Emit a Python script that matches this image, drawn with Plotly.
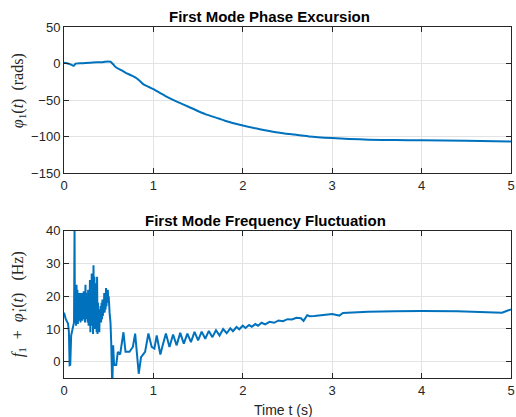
import plotly.graph_objects as go
from plotly.subplots import make_subplots

# top panel: phase excursion (rads)
t_phase = [0, 0.03, 0.06, 0.09, 0.11, 0.13, 0.2, 0.32, 0.43, 0.50, 0.52, 0.55, 0.58,
           0.64, 0.69, 0.76, 0.82, 0.86, 0.89, 0.95, 1.0, 1.13, 1.28, 1.43, 1.58, 1.73,
           1.80, 2.0, 2.19, 2.37, 2.56, 2.74, 3.0, 3.19, 3.41, 3.7, 4.0, 4.5, 5.0]
phase = [1, 0.5, -0.5, -2, -3, 0, 0.5, 1.5, 2, 3, 2.5, -1, -5,
         -9, -12.6, -16.5, -20.7, -25, -28.4, -32, -35, -44, -53, -61, -69, -75,
         -78, -84.7, -89.6, -93.7, -96.8, -99.5, -101.8, -103, -104, -104.5, -104.8, -105.5, -106.5]

# bottom panel: instantaneous frequency (Hz)
t_freq = [0, 0.02, 0.045, 0.055, 0.063, 0.07, 0.08, 0.1, 0.112, 0.118, 0.122,
          0.13, 0.135, 0.14, 0.145, 0.15, 0.155, 0.16, 0.165, 0.17, 0.175, 0.18, 0.185,
          0.19, 0.195, 0.20, 0.205, 0.21, 0.215, 0.22, 0.225, 0.23, 0.235, 0.24, 0.245,
          0.25, 0.255, 0.26, 0.265, 0.27, 0.275, 0.28, 0.285, 0.29, 0.295, 0.30, 0.305,
          0.31, 0.315, 0.32, 0.325, 0.33, 0.335, 0.34, 0.345, 0.35, 0.355, 0.36, 0.365,
          0.37, 0.375, 0.38, 0.385, 0.39, 0.395, 0.40, 0.405, 0.41, 0.415, 0.42, 0.425,
          0.43, 0.435, 0.44, 0.445, 0.45, 0.455, 0.46, 0.465, 0.47, 0.475, 0.48, 0.485,
          0.49, 0.495, 0.50, 0.51, 0.52, 0.528, 0.54, 0.55, 0.56, 0.584,
          0.602, 0.628, 0.665, 0.688, 0.732, 0.77, 0.796, 0.836, 0.862, 0.907, 0.944,
          0.981, 1.011, 1.037, 1.078, 1.104, 1.14, 1.18, 1.22, 1.26, 1.30, 1.34, 1.38,
          1.42, 1.46, 1.50, 1.54, 1.58, 1.62, 1.66, 1.70, 1.74, 1.78, 1.82, 1.86, 1.89,
          1.93, 1.96, 2.0, 2.03, 2.07, 2.10, 2.14, 2.17, 2.21, 2.25, 2.30, 2.35, 2.40,
          2.45, 2.50, 2.55, 2.60, 2.65, 2.68, 2.72, 2.75, 2.80, 2.85, 2.90, 2.95, 3.0,
          3.05, 3.08, 3.12, 3.2, 3.4, 3.7, 4.0, 4.4, 4.7, 4.9, 4.95, 5.0]
freq = [15, 13, 11.7, 9, -1.1, -1, 8, 10.5, 12, 41, 12,
        23, 11, 23.5, 13, 22, 11.5, 21, 12.5, 20, 13, 21, 12,
        19, 13, 21, 12.5, 20, 14, 21.5, 13, 18, 12, 23.5, 14,
        21, 13, 17, 12, 22, 11, 20, 13, 25, 9, 21, 12,
        27, 11, 22, 8.5, 29.5, 12, 26, 10, 24, 14, 21, 9,
        26, 8.5, 18, 12, 16, 9, 16, 12.5, 17, 12, 18, 13,
        19, 14, 18, 15, 21, 15, 20, 16, 22.5, 17, 22, 18,
        22, 19, 20, 15, 12, 6, -8, 5, -1, -1,
        3, 2.2, 9, 3, 3, 4.5, 8.6, -3.7, 1.4, 3, 8.6,
        4.5, 4, 8, 2.2, 5, 8.6, 4.5, 8.3, 5, 8.8, 5.5, 8.6,
        6, 9.1, 6.5, 9.2, 7, 9.4, 7.5, 9.6, 8, 10, 8.7, 10.2, 9.3,
        10.6, 9.9, 11, 10.3, 11.2, 10.7, 11.5, 11, 11.9, 11.4, 12.2, 11.9, 12.6,
        12.4, 13, 12.9, 13.4, 13.3, 12.5, 14.2, 13.9, 14, 14.2, 14.4, 14.4, 14.6,
        14.3, 14.1, 14.9, 15.0, 15.3, 15.4, 15.5, 15.4, 15.2, 15.0, 15.5, 16]

x_ticks = [0, 1, 2, 3, 4, 5]

BLUE = "#0072BD"
AX = "#262626"
GRID = "#e3e3e3"
TOP_DOMAIN = [0.583, 1]
BOTTOM_DOMAIN = [0, 0.419]

fig = make_subplots(rows=2, cols=1)
fig.add_trace(go.Scatter(x=t_phase, y=phase, mode="lines",
                         line=dict(color=BLUE, width=2, shape="spline", smoothing=0.6)),
              row=1, col=1)
fig.add_trace(go.Scatter(x=t_freq, y=freq, mode="lines",
                         line=dict(color=BLUE, width=2)), row=2, col=1)

tick_font = dict(family="Liberation Sans", size=13, color=AX)
axis_common = dict(showline=True, linecolor=AX, linewidth=1, mirror="ticks",
                   ticks="inside", ticklen=5, tickcolor=AX, showgrid=True,
                   gridcolor=GRID, gridwidth=1, zeroline=False, automargin=False,
                   ticklabeloverflow="allow", tickfont=tick_font)

fig.update_xaxes(range=[0, 5], tickvals=x_ticks, domain=[0, 1], **axis_common)
fig.update_yaxes(**axis_common)
fig.update_yaxes(range=[-150, 50], tickvals=[-150, -100, -50, 0, 50],
                 domain=TOP_DOMAIN, row=1, col=1)
fig.update_yaxes(range=[-5, 40], tickvals=[0, 10, 20, 30, 40],
                 domain=BOTTOM_DOMAIN, row=2, col=1)

title_font = dict(family="Liberation Sans", size=15, color="black")
label_font = dict(family="Liberation Serif", size=16, color=AX)
annotations = [
    dict(text="<b>First Mode Phase Excursion</b>", x=0.459, y=1.0, xref="paper",
         yref="paper", xanchor="center", yanchor="bottom", showarrow=False,
         font=title_font),
    dict(text="<b>First Mode Frequency Fluctuation</b>", x=0.45, y=BOTTOM_DOMAIN[1],
         xref="paper", yref="paper", xanchor="center", yanchor="bottom",
         showarrow=False, font=title_font),
    dict(text="<i>φ</i><sub>1</sub>(<i>t</i>)  (rads)", x=-0.103, y=0.82,
         xref="paper", yref="paper", xanchor="center", yanchor="middle",
         textangle=-90, showarrow=False, font=label_font),
    dict(text="<i>f</i><sub>1</sub>  +  <i>φ\u0307</i><sub>1</sub>(<i>t</i>)   (Hz)",
         x=-0.103, y=0.21, xref="paper", yref="paper", xanchor="center",
         yanchor="middle", textangle=-90, showarrow=False, font=label_font),
    dict(text="Time t (s)", x=0.492, y=0, xref="paper", yref="paper",
         xanchor="center", yanchor="top", yshift=-22, showarrow=False,
         font=dict(family="Liberation Sans", size=14, color=AX)),
]

fig.update_layout(
    width=516, height=417,
    margin=dict(l=64, r=5, t=27, b=39),
    plot_bgcolor="white", paper_bgcolor="white",
    showlegend=False,
    annotations=annotations,
)

# drop the default page margin so the figure sits at the window's corner
fig.write_html("out.html", config={"displayModeBar": False},
               post_script="document.body.style.margin='0';"
                           "document.body.style.overflow='hidden';")
